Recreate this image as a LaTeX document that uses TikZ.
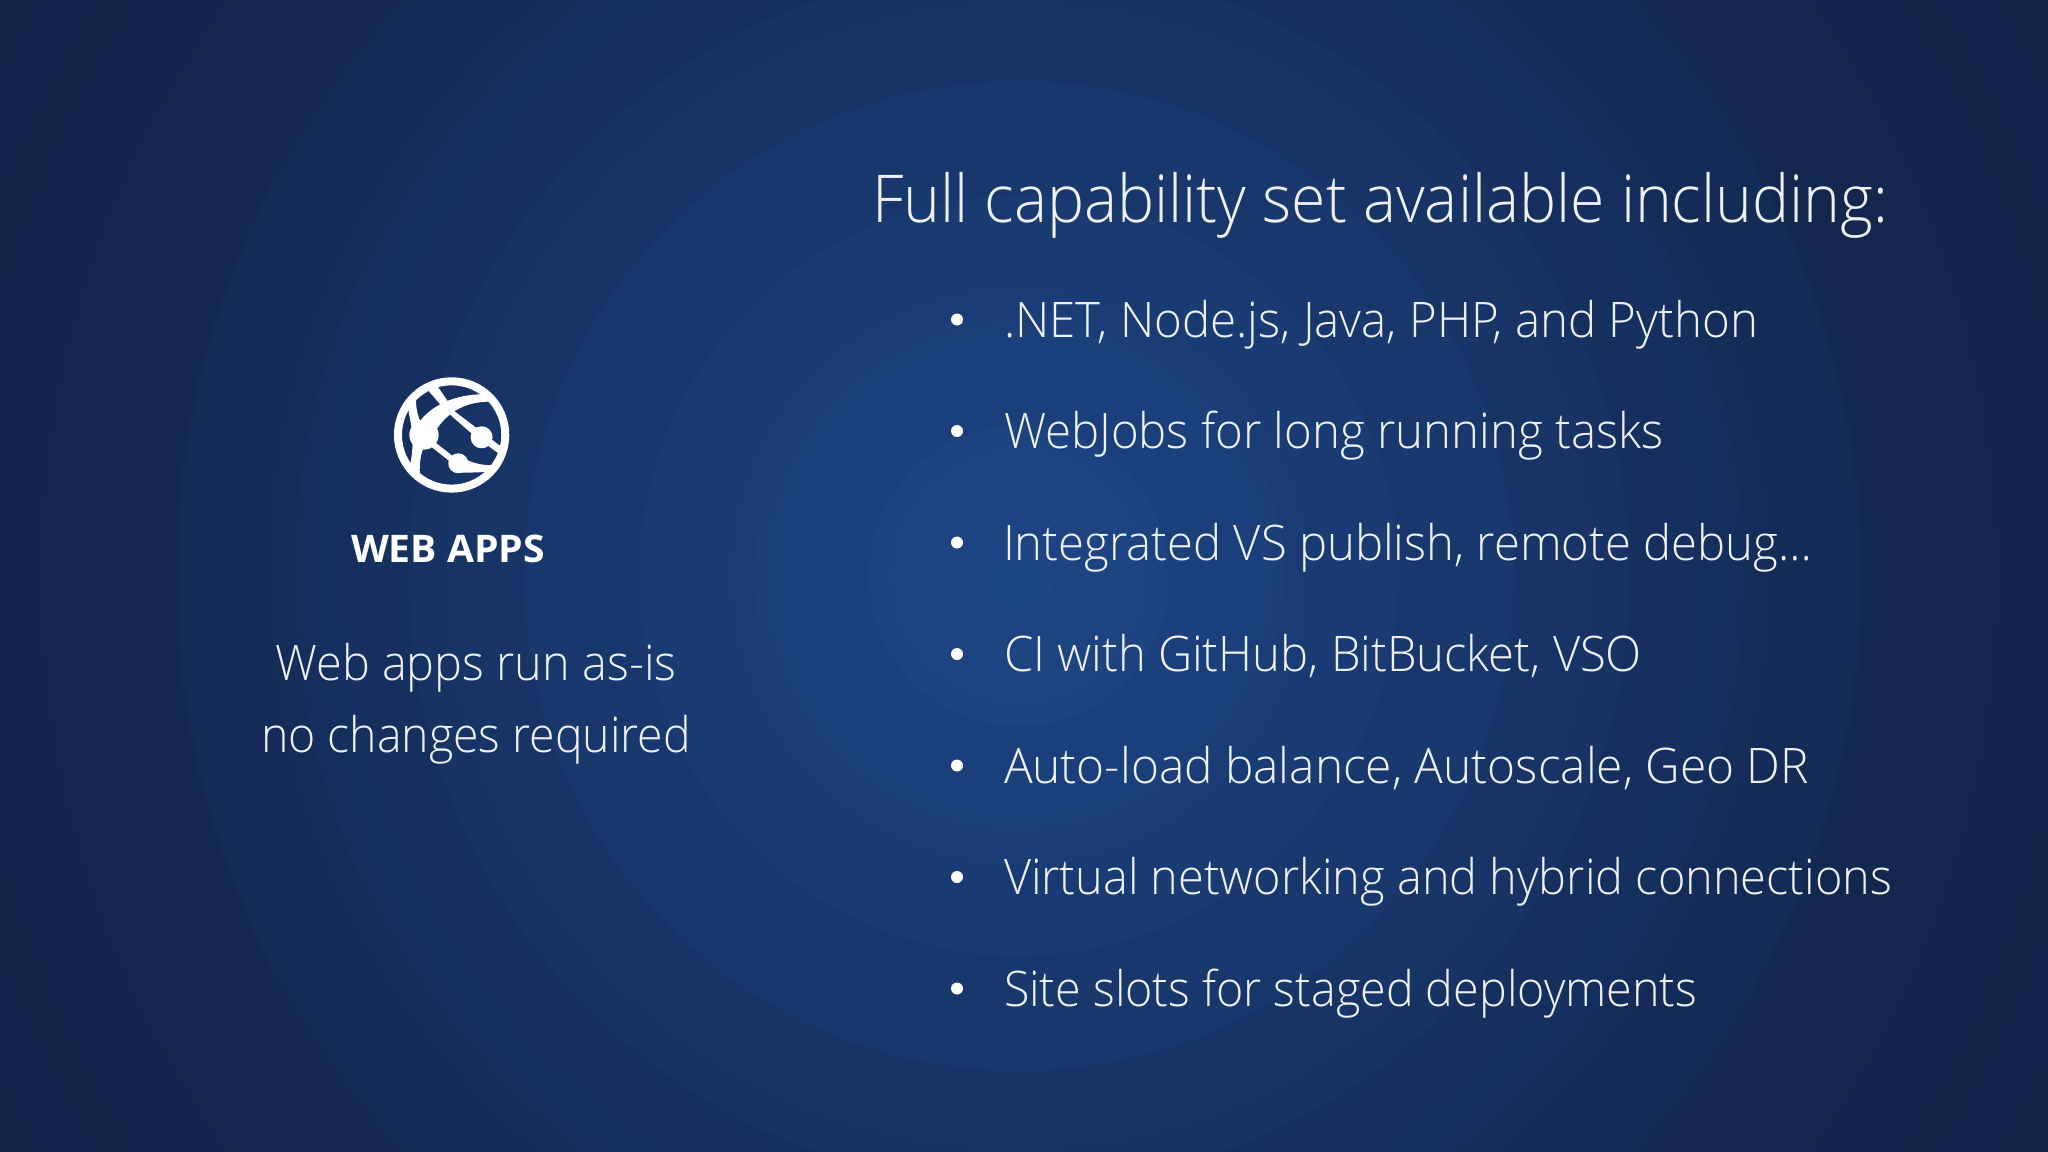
\documentclass[tikz,border=0pt]{standalone}
\usepackage{fontspec}
\usepackage{graphicx}
\newfontfamily\lightfont{Open Sans Light}
\newfontfamily\boldfont{Open Sans}
\newcommand\fitw[2]{\resizebox{#1pt}{\height}{#2}}
\definecolor{bgOut}{HTML}{10254A}
\definecolor{bgIn}{HTML}{1E4687}
\tikzset{
  txt/.style={anchor=base west,inner sep=0pt,outer sep=0pt,text=white},
  titletxt/.style={txt,text opacity=0.93,font=\lightfont\fontsize{66}{66}\selectfont},
  itemtxt/.style={txt,text opacity=0.93,font=\lightfont\fontsize{49}{49}\selectfont},
  bulletdot/.style={circle,fill=white,inner sep=0pt,minimum size=12pt},
}
\begin{document}
\begin{tikzpicture}[x=1pt,y=-1pt]
\useasboundingbox (0,0) rectangle (2048,1151.7);
\clip (0,0) rectangle (2048,1151.7);
\fill[bgOut] (0,0) rectangle (2048,1151.7);
\coordinate (c) at (1019,576);
\foreach \r in {1180,1175,...,5}{
  \pgfmathsetmacro\pp{\r>845 ? 7*(1180-\r)/335 :
     100-0.1*(0.3*\r+0.7*max(0,40+115*(floor((\r-40)/115)+0.5)))}
  \colorlet{ringcol}{bgIn!\pp!bgOut}
  \fill[ringcol] (c) circle[radius=\r pt];
}
% icon
\begin{scope}[x=0.3333pt,y=-0.3333pt,shift={(1020,1050)}]
  \draw[white,line width=8pt] (335,255) circle[radius=161];
  \fill[white] (252,255) circle[radius=44];
  \fill[white] (425,262) circle[radius=33];
  \fill[white] (355,340) circle[radius=30];
  \fill[white] (265,122) -- (290,105) -- (345,185) -- (490,295) -- (478,312) -- (400,255) -- (320,185) -- cycle;
  \fill[white] (235,220) .. controls (270,170) and (340,130) .. (445,133) -- (452,155) .. controls (370,155) and (320,190) .. (285,245) -- cycle;
  \fill[white] (205,180) -- (228,148) .. controls (228,180) and (235,200) .. (245,225) -- (215,235) .. controls (212,215) and (208,195) .. (205,180) -- cycle;
  \fill[white] (218,275) -- (250,295) .. controls (240,320) and (238,350) .. (240,380) -- (210,350) .. controls (215,320) and (218,300) .. (218,275) -- cycle;
  \draw[white,line width=6pt] (275,280) -- (345,335);
  \fill[white] (360,318) .. controls (400,345) and (440,348) .. (482,345) -- (470,362) .. controls (430,368) and (390,368) .. (355,368) -- cycle;
\end{scope}
\node[txt,font=\boldfont\bfseries\fontsize{38}{38}\selectfont] (webapps) at (351,562) {\fitw{194}{WEB APPS}};
\node[itemtxt] (sub1) at (275.5,680) {\fitw{401}{Web apps run as-is}};
\node[itemtxt] (sub2) at (261,752) {\fitw{430}{no changes required}};
\node[titletxt] (title) at (872,222) {\fitw{1016}{Full capability set available including:}};
\foreach \n/\yb/\w/\xl/\t in {
  1/337/754/1004/{.NET, Node.js, Java, PHP, and Python},
  2/448.5/659/1004/{WebJobs for long running tasks},
  3/560/809/1003/{Integrated VS publish, remote debug\ldots},
  4/671.5/638/1004/{CI with GitHub, BitBucket, VSO},
  5/783/805/1004/{Auto-load balance, Autoscale, Geo DR},
  6/894.5/888/1004/{Virtual networking and hybrid connections},
  7/1006/693/1004/{Site slots for staged deployments}}{
  \node[bulletdot] (b\n) at (957,\yb-17.5) {};
  \node[itemtxt] (i\n) at (\xl,\yb) {\fitw{\w}{\t}};
}
\end{tikzpicture}
\end{document}
